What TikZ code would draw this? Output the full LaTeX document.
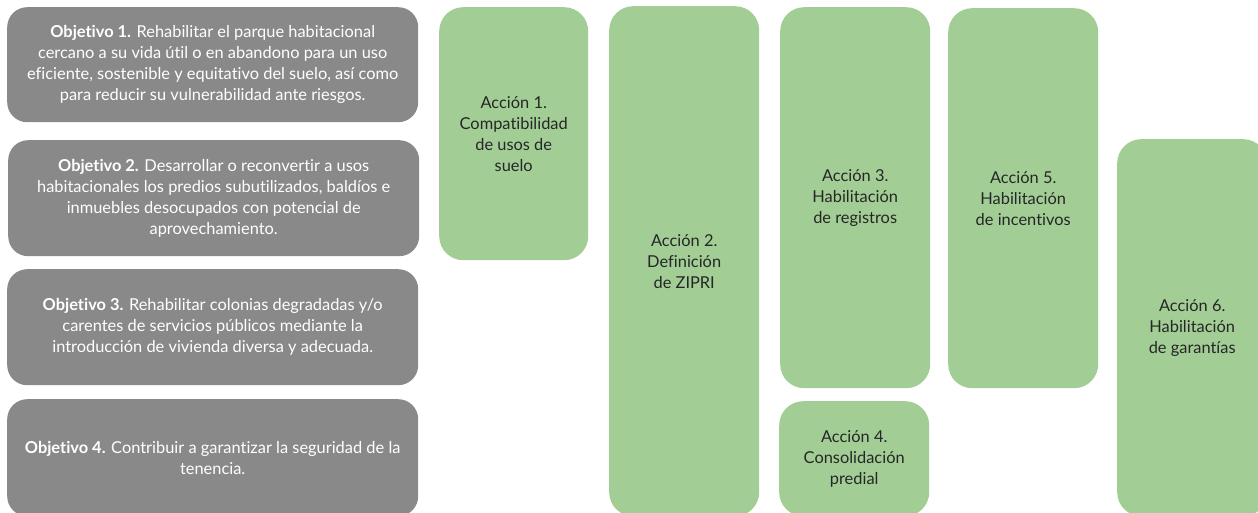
\documentclass[tikz,border=0pt]{standalone}
\usepackage{fontspec}
\setmainfont{Lato}[Ligatures=NoCommon]
\definecolor{objgray}{HTML}{898989}
\definecolor{accgreen}{HTML}{A2CE96}
\definecolor{acctext}{HTML}{262626}
\begin{document}
\begin{tikzpicture}[x=1pt,y=-1pt,
  objbox/.style={fill=objgray, rounded corners=20pt, anchor=north west,
    text=white, align=center, inner sep=0pt,
    font=\fontsize{16.4}{21}\selectfont},
  accbox/.style={fill=accgreen, rounded corners=24pt, anchor=north west,
    text=acctext, align=center, inner sep=0pt,
    font=\fontsize{16.4}{21}\selectfont}]
  \clip (0,0) rectangle (1258,513);
  % objetivos
  \node[objbox, minimum width=411pt, minimum height=115pt] (obj1) at (7,7)
    {\textbf{Objetivo 1.} Rehabilitar el parque habitacional\\
     cercano a su vida útil o en abandono para un uso\\
     eficiente, sostenible y equitativo del suelo, así como\\
     para reducir su vulnerabilidad ante riesgos.};
  \node[objbox, minimum width=411pt, minimum height=116pt] (obj2) at (8,140)
    {\textbf{Objetivo 2.} Desarrollar o reconvertir a usos\\
     habitacionales los predios subutilizados, baldíos e\\
     inmuebles desocupados con potencial de\\
     aprovechamiento.};
  \node[objbox, minimum width=411pt, minimum height=116pt] (obj3) at (7,269)
    {\textbf{Objetivo 3.} Rehabilitar colonias degradadas y/o\\
     carentes de servicios públicos mediante la\\
     introducción de vivienda diversa y adecuada.};
  \node[objbox, minimum width=411pt, minimum height=117pt] (obj4) at (7,399)
    {\textbf{Objetivo 4.} Contribuir a garantizar la seguridad de la\\
     tenencia.};
  % acciones
  \node[accbox, minimum width=149pt, minimum height=253pt] (acc1) at (439,7)
    {Acción 1.\\ Compatibilidad\\ de usos de\\ suelo};
  \node[accbox, minimum width=150pt, minimum height=510pt] (acc2) at (609,6)
    {Acción 2.\\ Definición\\ de ZIPRI};
  \node[accbox, minimum width=150pt, minimum height=381pt] (acc3) at (780,7)
    {Acción 3.\\ Habilitación\\ de registros};
  \node[accbox, minimum width=150pt, minimum height=115pt] (acc4) at (779,401)
    {Acción 4.\\ Consolidación\\ predial};
  \node[accbox, minimum width=150pt, minimum height=380pt] (acc5) at (948,8)
    {Acción 5.\\ Habilitación\\ de incentivos};
  \node[accbox, minimum width=150pt, minimum height=377pt] (acc6) at (1117,139)
    {Acción 6.\\ Habilitación\\ de garantías};
\end{tikzpicture}
\end{document}
